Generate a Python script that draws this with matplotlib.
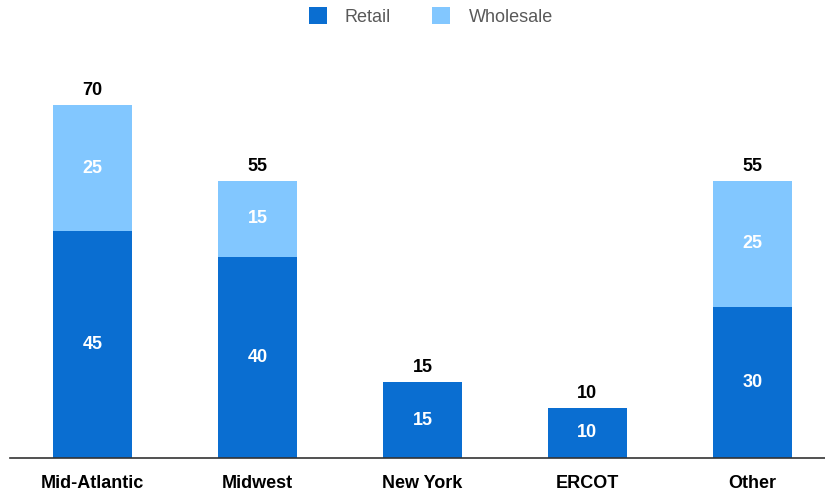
import matplotlib.pyplot as plt
import numpy as np

plt.rcParams['font.family'] = ['Liberation Sans', 'DejaVu Sans']

# Data
regions = ['Mid-Atlantic', 'Midwest', 'New York', 'ERCOT', 'Other']
retail = [45, 40, 15, 10, 30]
wholesale = [25, 15, 0, 0, 25]

RETAIL_COLOR = '#0A6ED1'
WHOLESALE_COLOR = '#82C7FF'

fig = plt.figure(figsize=(8.25, 4.93), dpi=100)
ax = fig.add_axes([10 / 825, 35 / 493, 815 / 825, 403 / 493])

x = np.arange(len(regions))
width = 0.48
retail = np.array(retail)
wholesale = np.array(wholesale)
totals = retail + wholesale

b1 = ax.bar(x, retail, width, color=RETAIL_COLOR, label='Retail')
b2 = ax.bar(x, wholesale, width, bottom=retail, color=WHOLESALE_COLOR, label='Wholesale')

for i in range(len(regions)):
    ax.text(x[i], retail[i] / 2, str(retail[i]), ha='center', va='center',
            color='white', fontsize=13, fontweight='bold')
    if wholesale[i] > 0:
        ax.text(x[i], retail[i] + wholesale[i] / 2, str(wholesale[i]), ha='center',
                va='center', color='white', fontsize=13, fontweight='bold')
    ax.text(x[i], totals[i] + 1.2, str(totals[i]), ha='center', va='bottom',
            color='black', fontsize=13, fontweight='bold')

ax.set_xlim(-0.5, 4.44)
ax.set_ylim(0, 80)
ax.set_xticks(x)
ax.set_xticklabels(regions, fontsize=13, fontweight='bold')
ax.tick_params(axis='x', length=0, pad=12)
ax.set_yticks([])
for s in ['top', 'right', 'left']:
    ax.spines[s].set_visible(False)
ax.spines['bottom'].set_color('#333333')
ax.spines['bottom'].set_linewidth(1.2)

leg = fig.legend(handles=[b1, b2], loc='upper center', bbox_to_anchor=(0.522, 1.018),
                 ncol=2, frameon=False, fontsize=13, handlelength=1.0, handleheight=1.0,
                 columnspacing=2.3, handletextpad=1.0)
for t in leg.get_texts():
    t.set_color('#595959')

plt.savefig('out.png', dpi=100)
